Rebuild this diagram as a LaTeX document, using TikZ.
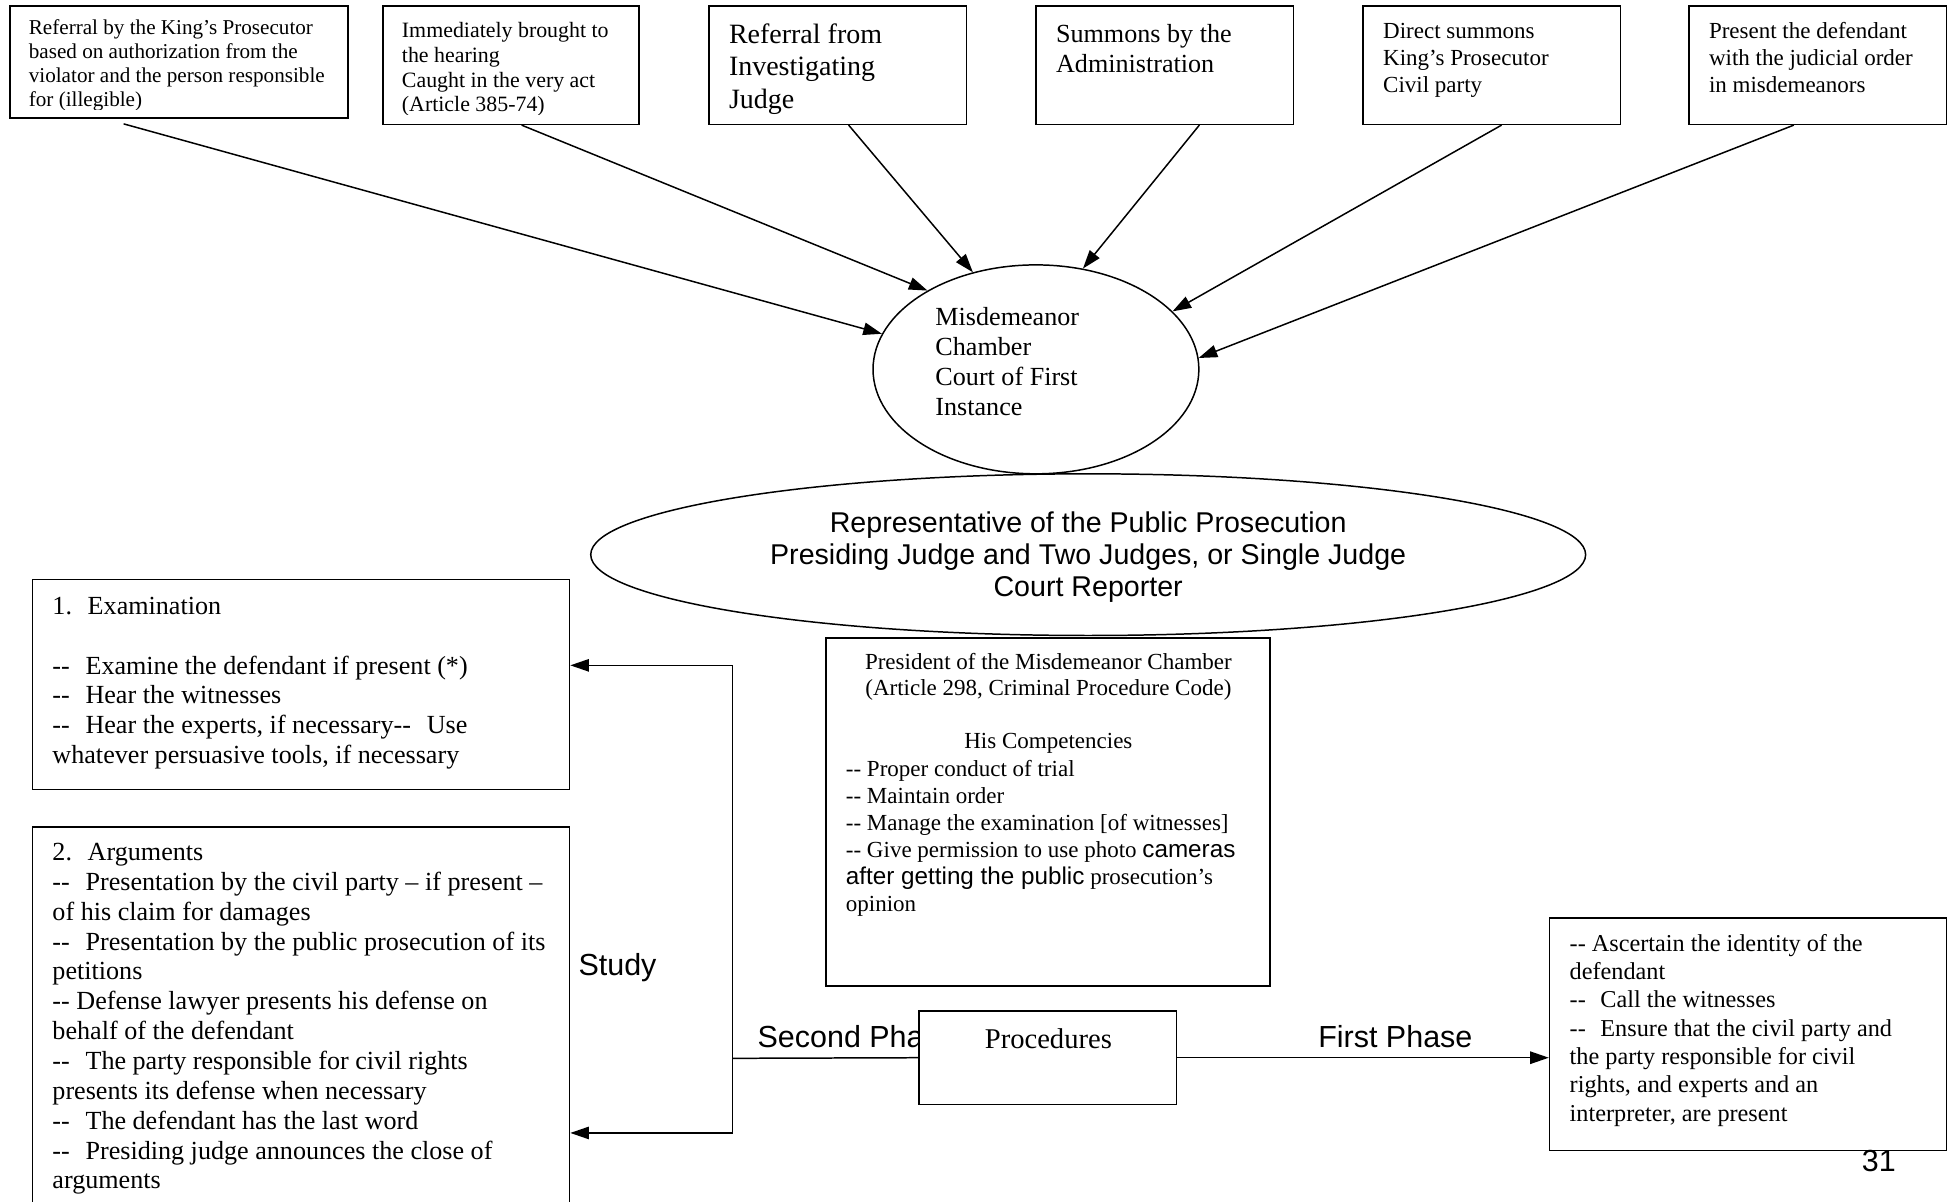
\documentclass[tikz,border=0pt]{standalone}
\usepackage{fontspec}
\setmainfont{Liberation Serif}
\setsansfont{Liberation Sans}
\usetikzlibrary{arrows.meta,shapes.geometric,calc}
% font size helper and a literal double hyphen
\newcommand\setfs[2]{\fontsize{#1}{#2}\selectfont}
\newcommand\dblhy{-{}-}
\begin{document}
\begin{tikzpicture}[x=1pt,y=-1pt,
  frame/.style={draw, line width=1.2pt, rectangle, inner sep=0pt},
  oval/.style={draw, line width=1.2pt, ellipse, inner sep=0pt},
  link/.style={line width=1.2pt},
  feed/.style={line width=1.2pt, -{Triangle[length=15pt,width=10pt]}},
  % multi-line texts are placed by the baseline of their last line
  txt/.style={inner sep=0pt, align=left, anchor=base west},
  ctxt/.style={inner sep=0pt, align=center, anchor=base},
  label/.style={inner sep=0pt, font=\sffamily\setfs{24.5}{28}},
]
\useasboundingbox (0,0) rectangle (1568,966);
\clip (0,0) rectangle (1568,966);

% ---------- referral sources ----------
\node[frame, minimum width=272pt, minimum height=90pt] (boxA) at (144,50) {};
\node[frame, minimum width=206pt, minimum height=95pt] (boxB) at (411,52.5) {};
\node[frame, minimum width=207pt, minimum height=95pt] (boxC) at (673.5,52.5) {};
\node[frame, minimum width=207pt, minimum height=95pt] (boxD) at (936.5,52.5) {};
\node[frame, minimum width=207pt, minimum height=95pt] (boxE) at (1199.5,52.5) {};
\node[frame, minimum width=207pt, minimum height=95pt] (boxF) at (1461.5,52.5) {};

% the last line of the two left boxes overflows and is cut by the box margin
\begin{scope}
  \clip ($(boxA.north west)+(2,2)$) rectangle ($(boxA.south east)+(-2,-7.5)$);
  \node[txt, font=\setfs{17}{19.5}] (tA) at (23,86)
    {Referral by the King’s Prosecutor\\based on authorization from the\\violator and the person responsible\\for (illegible)};
\end{scope}
\begin{scope}
  \clip ($(boxB.north west)+(2,2)$) rectangle ($(boxB.south east)+(-2,-8.5)$);
  \node[txt, font=\setfs{17.6}{20}] (tB) at (323,90)
    {Immediately brought to\\the hearing\\Caught in the very act\\(Article 385-74)};
\end{scope}
\node[txt, font=\setfs{22.5}{26}] (tC) at (586,87) {Referral from\\Investigating\\Judge};
\node[txt, font=\setfs{21}{24}] (tD) at (849,58) {Summons by the\\Administration};
\node[txt, font=\setfs{18.5}{21.5}] (tE) at (1112,74) {Direct summons\\King’s Prosecutor\\Civil party};
\node[txt, font=\setfs{18.5}{21.5}] (tF) at (1374,74) {Present the defendant\\with the judicial order\\in misdemeanors};

% ---------- court ----------
\node[oval, minimum width=262pt, minimum height=168pt] (court) at (833,297) {};
\node[txt, font=\setfs{21}{24}] (tCourt) at (752,334) {Misdemeanor\\Chamber\\Court of First\\Instance};

\draw[feed] ($(boxA.south west)+(92,4)$) -- (court.167);
\draw[feed] ($(boxB.south west)+(112,0)$) -- (court.144.5);
\draw[feed] ($(boxC.south west)+(113,0)$) -- (court.123);
\draw[feed] ($(boxD.south west)+(132,0)$) -- (court.65);
\draw[feed] ($(boxE.south west)+(112,0)$) -- (court.23);
\draw[feed] ($(boxF.south west)+(85,0)$) -- (court.4.3);

% ---------- bench ----------
\node[oval, minimum width=800pt, minimum height=130pt] (panel) at (875,446) {};
\node[ctxt, font=\sffamily\setfs{23}{26}] (tPanel) at (875,480)
  {Representative of the Public Prosecution\\Presiding Judge and Two Judges, or Single Judge\\Court Reporter};

% ---------- president ----------
\node[frame, minimum width=357pt, minimum height=280pt] (pres) at (842.5,653) {};
\node[ctxt, font=\setfs{18.5}{21.5}] (presHead) at (843,559.5)
  {President of the Misdemeanor Chamber\\(Article 298, Criminal Procedure Code)};
\node[ctxt, font=\setfs{18.5}{21.5}] (presSub) at (843,602) {His Competencies};
\node[txt, font=\setfs{18.5}{21.8}] (presList) at (680,733)
  {\dblhy\ Proper conduct of trial\\\dblhy\ Maintain order\\\dblhy\ Manage the examination [of witnesses]\\
   \dblhy\ Give permission to use photo {\sffamily\fontsize{19.5}{21.8}\selectfont cameras}\\
   {\sffamily\fontsize{19.5}{21.8}\selectfont after getting the public} prosecution’s\\opinion};

% ---------- hearing stages ----------
\node[frame, minimum width=432pt, minimum height=169pt] (exam) at (242,550.5) {};
\node[txt, font=\setfs{21}{24}] (tExam) at (42,614)
  {1.\hspace{0.6em}Examination\\[24pt]
   \dblhy\hspace{0.6em}Examine the defendant if present (*)\\
   \dblhy\hspace{0.6em}Hear the witnesses\\
   \dblhy\hspace{0.6em}Hear the experts, if necessary\dblhy\hspace{0.6em}Use\\
   whatever persuasive tools, if necessary};

\node[frame, minimum width=432pt, minimum height=315pt] (args) at (242,822.5) {};
\node[txt, font=\setfs{21}{24}] (tArgs) at (42,956)
  {2.\hspace{0.6em}Arguments\\
   \dblhy\hspace{0.6em}Presentation by the civil party – if present –\\
   of his claim for damages\\
   \dblhy\hspace{0.6em}Presentation by the public prosecution of its\\
   petitions\\
   \dblhy\ Defense lawyer presents his defense on\\
   behalf of the defendant\\
   \dblhy\hspace{0.6em}The party responsible for civil rights\\
   presents its defense when necessary\\
   \dblhy\hspace{0.6em}The defendant has the last word\\
   \dblhy\hspace{0.6em}Presiding judge announces the close of\\
   arguments};

\node[frame, minimum width=319pt, minimum height=187pt] (ident) at (1405.5,831.5) {};
\node[txt, font=\setfs{19.5}{22.8}] (tIdent) at (1262,901.5)
  {\dblhy\ Ascertain the identity of the\\
   defendant\\
   \dblhy\hspace{0.6em}Call the witnesses\\
   \dblhy\hspace{0.6em}Ensure that the civil party and\\
   the party responsible for civil\\
   rights, and experts and an\\
   interpreter, are present};

% ---------- phases ----------
\node[label, anchor=base west] (lSecond) at (609,842) {Second Phase};
\node[label, anchor=base] (lFirst) at (1122,842) {First Phase};
\node[label, anchor=base west] (lStudy) at (465,784) {Study};

\node[frame, fill=white, minimum width=207pt, minimum height=75pt] (proc) at (842.5,850.5) {};
\node[ctxt, font=\setfs{23}{26}] (tProc) at (843,843) {Procedures};

\coordinate (jTop) at (589,535);
\coordinate (jMid) at (589,851);
\coordinate (jBot) at (589,911);

\draw[feed] (proc.east) -- (proc.east -| ident.west);
\draw[link] (proc.west) -- (jMid);
\draw[link] (jTop) -- (jBot);
\draw[feed] (jTop) -- (jTop -| exam.east);
\draw[feed] (jBot) -- (jBot -| args.east);

% page number
\node[label, anchor=base west] (pageNo) at (1497,942) {31};
\end{tikzpicture}
\end{document}
